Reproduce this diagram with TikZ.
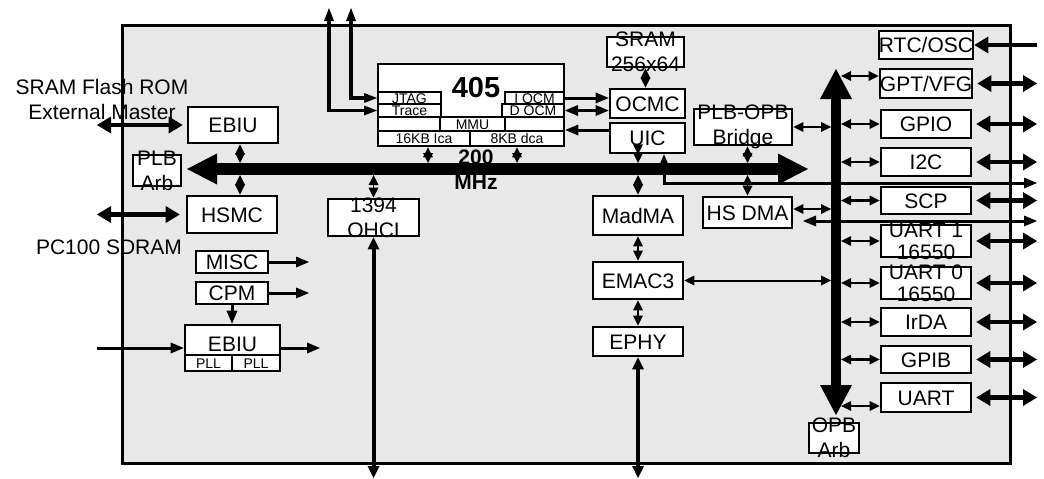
\documentclass[tikz,border=0pt]{standalone}
\usepackage{fontspec}
\setmainfont{Liberation Sans}
\usetikzlibrary{arrows.meta}
\definecolor{chipgray}{RGB}{232,232,232}

\begin{document}
\begin{tikzpicture}[x=1pt, y=-1pt,
    chip/.style={draw, line width=3pt, fill=chipgray},
    box/.style={draw, fill=white, line width=2.6pt, inner sep=0pt,
                font=\fontsize{21}{25}\selectfont, text height=15pt, text depth=0pt,
                minimum width=90pt, minimum height=28pt},
    cell/.style={draw, fill=white, line width=2pt, inner sep=0pt,
                 font=\fontsize{14}{14}\selectfont, text height=10pt, text depth=0pt},
    lbl/.style={font=\fontsize{21}{25}\selectfont, align=center, inner sep=0pt},
    bus/.style={line width=12pt, >={Triangle[length=30pt, width=31pt, line width=0pt]}, <->},
    opb/.style={line width=10pt, >={Triangle[length=30pt, width=32pt, line width=0pt]}, <->},
    diam/.style={line width=1.5pt, >={Triangle[length=10pt, width=10pt, line width=0pt]}, <->},
    link/.style={line width=2.5pt, >={Triangle[length=10pt, width=10pt, line width=0pt]}, <->},
    pin/.style={line width=4.5pt, >={Triangle[length=14pt, width=17pt, line width=0pt]}},
    port/.style={line width=4pt, >={Triangle[length=12pt, width=12pt, line width=0pt]}, <->},
    probe/.style={line width=3.5pt, >={Triangle[length=13pt, width=10pt, line width=0pt]}, <->},
    sig/.style={line width=3pt, >={Triangle[length=13pt, width=11pt, line width=0pt]}}
  ]
  \useasboundingbox (0,0) rectangle (1044,479);
  \draw[chip] (122,25) rectangle (1010,463);

  % external memory side
  \node[lbl] (extmem) at (102,99) {SRAM Flash ROM\\External Master};
  \node[lbl] (sdram) at (109,247) {PC100 SDRAM};
  \node[box, minimum height=36pt] (ebiu) at (233,125) {EBIU};
  \node[box, minimum width=48pt, minimum height=31pt,
        label={[lbl]center:PLB\\Arb}] (plbarb) at (157,170.5) {};
  \node[box, minimum height=37pt] (hsmc) at (232,214.5) {HSMC};
  \node[box, minimum width=72pt, minimum height=22pt] (misc) at (232,262) {MISC};
  \node[box, minimum width=72pt, minimum height=22pt] (cpm) at (232,293) {CPM};
  \node[box, minimum width=95pt, minimum height=46pt, text depth=9pt] (ebiub) at (232.5,348) {EBIU};
  \node[cell, minimum width=47pt, minimum height=16pt] (pll1) at (208.5,363) {PLL};
  \node[cell, minimum width=48pt, minimum height=16pt] (pll2) at (256,363) {PLL};

  % 405 core
  \node[box, minimum width=186pt, minimum height=82pt] (cpu) at (471,105) {};
  \node[font=\fontsize{29}{29}\selectfont\bfseries, inner sep=0pt] (cpuname) at (476,88) {405};
  \node[cell, minimum width=63pt, minimum height=12pt] (jtag) at (409.5,98) {JTAG};
  \node[cell, minimum width=63pt, minimum height=13pt] (trace) at (409.5,110.5) {Trace};
  \node[cell, minimum width=59pt, minimum height=12pt] (iocm) at (534.5,98) {I OCM};
  \node[cell, minimum width=62pt, minimum height=13pt] (docm) at (533,110.5) {D OCM};
  \node[cell, minimum width=65pt, minimum height=14pt] (mmu) at (472.5,124) {MMU};
  \node[cell, minimum width=92pt, minimum height=15pt] (icache) at (424,138.5) {16KB Ica};
  \node[cell, minimum width=94pt, minimum height=15pt] (dcache) at (517,138.5) {8KB dca};

  % on-chip memory, interrupts, ethernet
  \node[box, minimum width=77pt, minimum height=30pt,
        label={[lbl]center:SRAM\\256x64}] (sram) at (645.5,52) {};
  \node[box, minimum width=75pt, minimum height=29pt] (ocmc) at (647.5,103.5) {OCMC};
  \node[box, minimum width=75pt, minimum height=30pt] (uic) at (647.5,138) {UIC};
  \node[box, minimum height=39pt] (madma) at (638,215.5) {MadMA};
  \node[box, minimum height=37pt] (emac) at (638,280.5) {EMAC3};
  \node[box, minimum height=29pt] (ephy) at (638,341.5) {EPHY};
  \node[box, minimum width=91pt, minimum height=37pt,
        label={[lbl]center:1394\\OHCI}] (ohci) at (373.5,217.5) {};
  \node[box, minimum width=98pt, minimum height=36pt,
        label={[lbl]center:PLB-OPB\\Bridge}] (bridge) at (743,127) {};
  \node[box, minimum width=89pt, minimum height=31pt] (hsdma) at (747.5,212.5) {HS DMA};
  \node[box, minimum width=50pt, minimum height=30pt,
        label={[lbl]center:OPB\\Arb}] (opbarb) at (834,438) {};

  % OPB peripherals
  \node[box] (rtc) at (926,45) {RTC/OSC};
  \node[box, minimum height=29pt] (gpt) at (926,83.5) {GPT/VFG};
  \node[box] (gpio) at (926,124) {GPIO};
  \node[box] (i2c) at (926,162) {I2C};
  \node[box, minimum height=27pt] (scp) at (926,200.5) {SCP};
  \node[box, minimum height=32pt, label={[lbl, font=\fontsize{21}{22}\selectfont]center:UART 1\\16550}]
    (uart1) at (926,241) {};
  \node[box, minimum height=32pt, label={[lbl, font=\fontsize{21}{22}\selectfont]center:UART 0\\16550}]
    (uart0) at (926,283) {};
  \node[box] (irda) at (926,322) {IrDA};
  \node[box, minimum height=27pt] (gpib) at (926,359.5) {GPIB};
  \node[box, minimum height=29pt] (uart) at (926,397.5) {UART};

  \coordinate (plbL) at (187,169);
  \coordinate (plbR) at (808,169);
  \coordinate (plbtop) at (0,163);
  \coordinate (plbbot) at (0,175);
  \coordinate (opbT) at (836,69);
  \coordinate (opbB) at (836,415);
  \coordinate (opbL) at (831,0);
  \coordinate (opbR) at (841,0);
  \coordinate (pinL) at (97,0);
  \coordinate (pinR) at (1037,0);
  \coordinate (pinB) at (0,478);
  \coordinate (jtagtop) at (351,8);
  \coordinate (tracetop) at (329,8);
  \coordinate (miscout) at (309,0);
  \coordinate (clkout) at (320,0);
  \coordinate (irqout) at (1037,183);
  \coordinate (dmain) at (803,221);
  \coordinate (dmaout) at (1037,221);

  % left side connections
  \draw[pin, <->, shorten >=4pt] (pinL |- ebiu.west) -- (ebiu.west);
  \draw[pin, <->, shorten >=6pt] (pinL |- hsmc.west) -- (hsmc.west);
  \draw[sig, ->] (pinL |- ebiub.west) -- (ebiub.west);
  \draw[sig, ->] (ebiub.east) -- (ebiub.east -| clkout);
  \draw[sig, ->] (misc.east) -- (misc.east -| miscout);
  \draw[sig, ->] (cpm.east) -- (cpm.east -| miscout);
  \draw[sig, ->] (cpm.south) -- (cpm.south |- ebiub.north);

  % PLB attachments
  \draw[diam] ([xshift=7pt]ebiu.south) -- ([xshift=7pt]ebiu.south |- plbtop);
  \draw[diam] ([xshift=8pt]hsmc.north |- plbbot) -- ([xshift=8pt]hsmc.north);
  \draw[diam] ([xshift=-43pt]cpu.south) -- ([xshift=-43pt]cpu.south |- plbtop);
  \draw[diam] ([xshift=46pt]cpu.south) -- ([xshift=46pt]cpu.south |- plbtop);
  \draw[diam] (ohci.north |- plbbot) -- (ohci.north);
  \draw[diam] (madma.north |- uic.south) -- (madma.north |- plbtop);
  \draw[diam] (madma.north |- plbbot) -- (madma.north);
  \draw[diam] (hsdma.north |- bridge.south) -- (hsdma.north |- plbtop);
  \draw[diam] (hsdma.north |- plbbot) -- (hsdma.north);
  \draw[diam] (sram.south) -- (sram.south |- ocmc.north);

  % core ports
  \draw[probe] (jtagtop) |- (jtag.west);
  \draw[probe] (tracetop) |- (trace.west);
  \draw[sig, ->] (iocm.east) -- (iocm.east -| ocmc.west);
  \draw[sig, <->] (docm.east) -- (docm.east -| ocmc.west);
  \draw[sig, ->] ([yshift=8pt]uic.west) -- ([yshift=8pt]uic.west -| cpu.east);
  \draw[sig, <->] ([xshift=16.5pt]uic.south) |- (irqout);

  % ethernet and 1394
  \draw[link] (madma.south) -- (emac.north);
  \draw[link] (emac.south) -- (ephy.north);
  \draw[port] (ephy.south) -- (ephy.south |- pinB);
  \draw[port] (ohci.south) -- (ohci.south |- pinB);
  \draw[link, line width=2pt] (emac.east) -- (emac.east -| opbL);

  % OPB attachments
  \draw[link] (bridge.east) -- (bridge.east -| opbL);
  \draw[link] ([yshift=3.5pt]hsdma.east) -- ([yshift=3.5pt]hsdma.east -| opbL);
  \draw[sig, <->] (dmain) -- (dmaout);
  \draw[link] ([yshift=7.5pt]gpt.west -| opbR) -- ([yshift=7.5pt]gpt.west);
  \draw[link] ([yshift=-8.5pt]uart.west -| opbR) -- ([yshift=-8.5pt]uart.west);
  \foreach \p in {gpio, i2c, scp, uart1, uart0, irda, gpib}
    \draw[link] (opbR |- \p.west) -- (\p.west);
  \foreach \p in {gpt, gpio, i2c, scp, uart1, uart0, irda, gpib, uart}
    \draw[pin, <->, shorten <=4pt] (\p.east) -- (\p.east -| pinR);
  \draw[pin, ->] (rtc.east -| pinR) -- (rtc.east);

  % buses
  \draw[bus] (plbL) -- (plbR);
  \draw[opb] (opbT) -- (opbB);
  \node[font=\fontsize{21}{25}\selectfont\bfseries, align=center, inner sep=0pt]
    (speed) at (476,169.5) {200\\MHz};
\end{tikzpicture}
\end{document}
